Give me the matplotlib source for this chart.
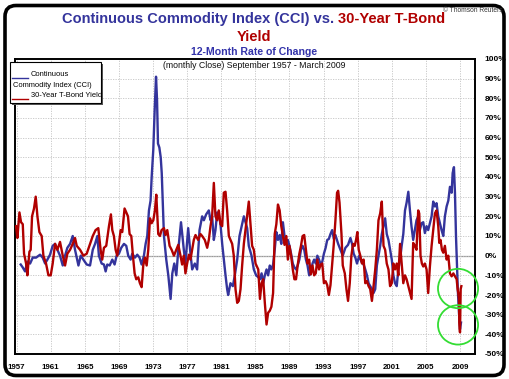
import matplotlib
matplotlib.use('Agg')
import matplotlib.pyplot as plt
from matplotlib.patches import FancyBboxPatch, Rectangle, Ellipse
from matplotlib.lines import Line2D
from matplotlib.transforms import IdentityTransform

# ---------------- data ----------------
cci_years = [1957.48, 1957.72, 1957.99, 1958.26, 1958.58, 1958.89, 1959.28, 1959.75, 1960.06, 1960.34,
             1960.61, 1960.92, 1961.23, 1961.51, 1961.78, 1962.09, 1962.41, 1962.68, 1962.95, 1963.27,
             1963.58, 1963.85, 1964.25, 1964.52, 1964.83, 1965.22, 1965.61, 1965.93, 1966.20, 1966.47,
             1966.65, 1966.97, 1967.24, 1967.44, 1967.63, 1967.91, 1968.22, 1968.49, 1968.73, 1969.00,
             1969.27, 1969.59, 1969.86, 1970.09, 1970.37, 1970.56, 1970.88, 1971.15, 1971.42, 1971.66,
             1971.93, 1972.13, 1972.32, 1972.52, 1972.71, 1972.84, 1973.03, 1973.19, 1973.35, 1973.47,
             1973.58, 1973.74, 1973.90, 1974.02, 1974.13, 1974.28, 1974.55, 1974.79, 1975.06, 1975.26,
             1975.49, 1975.73, 1975.96, 1976.28, 1976.61, 1976.80, 1977.12, 1977.39, 1977.59, 1977.90,
             1978.17, 1978.45, 1978.76, 1978.96, 1979.23, 1979.54, 1979.74, 1979.93, 1980.13, 1980.32,
             1980.52, 1980.71, 1980.91, 1981.11, 1981.30, 1981.50, 1981.69, 1981.81, 1982.08, 1982.36,
             1982.59, 1982.87, 1983.14, 1983.45, 1983.65, 1983.84, 1984.04, 1984.23, 1984.55, 1984.82,
             1985.09, 1985.35, 1985.54, 1985.73, 1985.92, 1986.11, 1986.31, 1986.50, 1986.69, 1986.88,
             1987.08, 1987.27, 1987.46, 1987.65, 1987.85, 1988.04, 1988.23, 1988.42, 1988.62, 1988.81,
             1989.00, 1989.19, 1989.39, 1989.58, 1989.77, 1989.96, 1990.16, 1990.35, 1990.54, 1990.73,
             1990.93, 1991.12, 1991.31, 1991.50, 1991.70, 1991.89, 1992.08, 1992.27, 1992.47, 1992.66,
             1992.85, 1993.04, 1993.24, 1993.43, 1993.62, 1993.81, 1994.01, 1994.20, 1994.39, 1994.71,
             1994.98, 1995.25, 1995.56, 1995.87, 1996.15, 1996.34, 1996.53, 1996.73, 1996.92, 1997.19,
             1997.43, 1997.70, 1997.89, 1998.09, 1998.28, 1998.47, 1998.67, 1998.86, 1999.06, 1999.25,
             1999.44, 1999.64, 1999.83, 2000.03, 2000.22, 2000.41, 2000.61, 2000.80, 2001.00, 2001.19,
             2001.38, 2001.58, 2001.77, 2001.97, 2002.16, 2002.35, 2002.55, 2002.74, 2002.94, 2003.13,
             2003.31, 2003.51, 2003.71, 2003.90, 2004.10, 2004.29, 2004.49, 2004.69, 2004.88, 2005.08,
             2005.27, 2005.47, 2005.67, 2005.86, 2006.06, 2006.25, 2006.45, 2006.65, 2006.84, 2007.04,
             2007.23, 2007.43, 2007.63, 2007.82, 2008.02, 2008.14, 2008.29, 2008.41, 2008.53, 2008.65,
             2008.76, 2008.88, 2009.00, 2009.12]
cci_values = [-4.5, -6, -8, -3, -4, -1, -1, 0.5, -1, -4,
              -2, 0.5, 5, 6, 3, 0, -5, 0, 4, 6,
              10, 3, -5, 0, -2, -4.5, -5, 3, 6, 10,
              0, -4, -4.5, -8, -4.5, -5, -2, -4.5, 0, 1,
              4, 6, 5, 0, -2, 1, -1, 0.5, -1, -4.5,
              0, 6, 10, 23, 28, 40, 54, 74, 91, 79,
              57, 55, 50, 42, 28, 10, -2, -10, -22, -9,
              -4, -10, 3, 17, 3, -4, 14, 1, -7, -4,
              -7, 13, 20, 18, 21, 23, 18, 20, 8, 13,
              22, 21, 16, 6, -2, -10, -17, -20, -14, -15.5,
              -10, -2, 10, 16, 20, 17, 14, 5, 0, -7,
              -10, -11, -12, -9, -14, -10, -7, -10, -5, -7,
              -4.5, 3, 12, 8, 10.5, 6, 17, 10, 8, 8,
              5, 1, -4, -6, -7, -5, -2, 3, 5, 3,
              -2, -5, -10, -9, -4, -2, -4, 0, -2, -4.5,
              -3, 1, 4, 8, 8.5, 11, 13, 8.5, 10.5, 6,
              3, 0, 4, 5.5, 9, 6, 1, -1, -4, 0,
              -3, -4.5, -7, -10, -14, -15.5, -17, -19, -17, -5,
              0, 5, 11, 15, 19, 11, 8, 3, -2, -10,
              -14, -15.5, -7, -2, 5, 11, 23, 27, 32.5, 23,
              15, 8, 13, 18, 20, 13, 16.5, 17, 11.5, 15,
              13, 16.5, 20, 27.5, 25, 26.7, 20, 16.5, 13, 10,
              20, 25, 28, 35, 32, 42, 45, 32, 10, -5.5,
              -19, -29, -37.5, -34]

tbond_years = [1956.93, 1957.09, 1957.33, 1957.52, 1957.72, 1957.87, 1958.11, 1958.26, 1958.50, 1958.65,
               1958.81, 1959.04, 1959.24, 1959.44, 1959.67, 1959.94, 1960.14, 1960.45, 1960.73, 1961.00,
               1961.23, 1961.51, 1961.78, 1962.09, 1962.41, 1962.68, 1962.95, 1963.27, 1963.58, 1963.85,
               1964.05, 1964.44, 1964.83, 1965.22, 1965.61, 1965.93, 1966.26, 1966.58, 1966.85, 1967.04,
               1967.24, 1967.51, 1967.83, 1968.06, 1968.22, 1968.41, 1968.61, 1968.80, 1969.00, 1969.20,
               1969.39, 1969.66, 1969.86, 1970.06, 1970.25, 1970.45, 1970.64, 1970.84, 1971.03, 1971.27,
               1971.46, 1971.66, 1971.85, 1972.05, 1972.25, 1972.44, 1972.64, 1972.83, 1973.03, 1973.22,
               1973.38, 1973.61, 1973.81, 1974.00, 1974.28, 1974.47, 1974.67, 1974.94, 1975.18, 1975.45,
               1975.73, 1975.96, 1976.22, 1976.41, 1976.61, 1976.80, 1977.00, 1977.20, 1977.39, 1977.59,
               1977.78, 1977.98, 1978.29, 1978.56, 1978.76, 1979.07, 1979.35, 1979.54, 1979.74, 1979.93,
               1980.13, 1980.32, 1980.52, 1980.71, 1980.91, 1981.11, 1981.30, 1981.50, 1981.69, 1981.89,
               1982.08, 1982.28, 1982.47, 1982.67, 1982.87, 1983.06, 1983.26, 1983.45, 1983.65, 1983.84,
               1984.04, 1984.23, 1984.43, 1984.62, 1984.82, 1985.02, 1985.34, 1985.54, 1985.73, 1985.92,
               1986.11, 1986.31, 1986.50, 1986.69, 1986.88, 1987.08, 1987.27, 1987.46, 1987.65, 1987.85,
               1988.04, 1988.23, 1988.42, 1988.62, 1988.81, 1989.00, 1989.19, 1989.39, 1989.58, 1989.77,
               1989.96, 1990.16, 1990.35, 1990.54, 1990.73, 1990.93, 1991.12, 1991.31, 1991.50, 1991.70,
               1991.89, 1992.08, 1992.27, 1992.47, 1992.66, 1992.85, 1993.04, 1993.24, 1993.43, 1993.62,
               1993.81, 1994.01, 1994.20, 1994.39, 1994.58, 1994.71, 1994.87, 1995.10, 1995.25, 1995.49,
               1995.68, 1995.87, 1996.07, 1996.26, 1996.46, 1996.65, 1996.81, 1996.96, 1997.12, 1997.31,
               1997.50, 1997.70, 1997.89, 1998.09, 1998.28, 1998.47, 1998.67, 1998.86, 1999.06, 1999.25,
               1999.44, 1999.64, 1999.83, 2000.03, 2000.22, 2000.41, 2000.61, 2000.80, 2001.00, 2001.19,
               2001.38, 2001.58, 2001.77, 2001.97, 2002.16, 2002.35, 2002.55, 2002.74, 2002.94, 2003.13,
               2003.32, 2003.51, 2003.71, 2003.90, 2004.10, 2004.22, 2004.37, 2004.53, 2004.69, 2004.88,
               2005.08, 2005.27, 2005.47, 2005.67, 2005.86, 2006.06, 2006.25, 2006.45, 2006.57, 2006.72,
               2006.88, 2007.04, 2007.23, 2007.43, 2007.63, 2007.82, 2008.02, 2008.22, 2008.41, 2008.61,
               2008.72, 2008.80, 2008.88, 2008.92, 2009.00, 2009.08, 2009.16]
tbond_values = [15, 9, 22, 17, 16, 1, -4, -10, 2, 3,
                20, 24, 30, 20, 12, 10, 0, -4, -10, -10,
                -4, 6, 3, 7, 0, -5, 1, 3, 6, 9,
                5, 3, 0, 1, 6, 10, 13, 14, 3, -2,
                4, 5, 15, 21, 13, 10, 3, 0, 6, 13,
                12, 24, 22, 20, 11, 10, 0, -9, -12, -11,
                -14, -16, -5, -1, -5, 3, 19, 16.5, 18, 23,
                31, 11, 10, 13, 14, 10.5, 13, 5, 3, 0,
                3, 5.5, 0, -4.5, 0, -9, -4, 0.5, -2, 3,
                8, 10.5, 8, 11, 10, 8, 4, 8, 15, 20,
                37, 20, 18, 23, 16, 15, 32, 32.5, 23, 10,
                8, 6, 0, -17, -24, -23, -17, -5, 6, 13,
                20, 27.5, 16, 5, 3, -4, -7, -22, -14, -12,
                -24, -35, -29, -28, -26, -19, 11, 16, 26, 23,
                15, 10, 5.5, 10, -2, 5, 0, -7, -12, -12,
                -5, 1, 5, 10, 10.5, 3, -4, -2, -9.5, -5,
                -10, -9, -2, -7, -4.5, -4, -14, -13, -15, -20,
                -15, -4, 6, 18, 32, 33, 27, 11, -5, -9,
                -17, -23, -14, 0, 6, 5, 8, 12, 3, 0,
                -4, -2, -14, -13, -15.5, -17, -23, -15.5, -7, 3,
                18, 21.5, 27.5, 5, 3, -4, -7, -15.5, -14, -4,
                -7, -4, -10, 6, -4, -14, -10, -12, -15.5, -19,
                -22, 6.5, 5, 3, 23, 21.5, 0, -4, -5.5, -4,
                -7, -19, -5.5, 5, 13, 21.5, 23, 15, 6.5, 8,
                3, 1.5, 5, -2, 0, -9, -10.5, -9, -10.5, -12,
                -17, -19, -22, -34, -39, -17, -15.5]

year_ticks = [1957, 1961, 1965, 1969, 1973, 1977, 1981, 1985, 1989, 1993, 1997, 2001, 2005, 2009]
pct_ticks = [-50, -40, -30, -20, -10, 0, 10, 20, 30, 40, 50, 60, 70, 80, 90, 100]

cci_label = "Continuous Commodity Index (CCI)"
tbond_label = "30-Year T-Bond Yield"

BLUE = '#34349c'
RED = '#b00000'
FONT = 'Liberation Sans'

# ---------------- figure ----------------
W, H = 509, 379
fig = plt.figure(figsize=(W / 100, H / 100), dpi=100)
fig.patch.set_facecolor('white')


def fx(x):
    return x / W


def fy(y):
    return 1 - y / H


ax = fig.add_axes([fx(15), fy(354), (475 - 15) / W, (354 - 59) / H])
ax.set_xlim(1956.81, 2010.76)
ax.set_ylim(-50, 100)

ax.plot(cci_years, cci_values, color=BLUE, lw=1.7, zorder=3, solid_joinstyle='round')
ax.plot(tbond_years, tbond_values, color=RED, lw=1.7, zorder=4, solid_joinstyle='round')

ax.set_xticks(year_ticks)
ax.set_xticklabels([str(y) for y in year_ticks], fontsize=5.7, fontweight='bold', family=FONT)
ax.set_yticks(pct_ticks)
ax.set_yticklabels([f"{p}%" for p in pct_ticks], fontsize=6.0, fontweight='bold', family=FONT)
ax.yaxis.tick_right()
ax.tick_params(axis='both', length=0)
ax.tick_params(axis='y', pad=7)
ax.tick_params(axis='x', pad=7)

ax.grid(True, color='#c4c4c4', linestyle=(0, (1.5, 1.5)), linewidth=0.6, zorder=0)
ax.axhline(0, color='#999999', lw=0.9, zorder=1)
for s in ax.spines.values():
    s.set_linewidth(1.4)
    s.set_color('black')

# green highlight circles
for cy in (-16.7, -35.2):
    ax.add_patch(Ellipse((2008.77, cy), 4.7, 20.0, fill=False, ec='#33dd33', lw=1.3,
                         zorder=5, clip_on=False))

# subtitle inside plot
fig.text(fx(254), fy(66), "(monthly Close) September 1957 - March 2009", fontsize=6.3,
         family=FONT, ha='center', va='center', color='#111111')

# ---------------- titles ----------------
fig.canvas.draw()
r = fig.canvas.get_renderer()
t1 = fig.text(0, fy(19), "Continuous Commodity Index (CCI) vs.", fontsize=10.5, fontweight='bold',
              family=FONT, color=BLUE, ha='left', va='center')
t2 = fig.text(0, fy(19), "30-Year T-Bond", fontsize=10.5, fontweight='bold',
              family=FONT, color=RED, ha='left', va='center')
w1 = t1.get_window_extent(r).width
w2 = t2.get_window_extent(r).width
gap = 4
total = w1 + gap + w2
x0 = 253.5 - total / 2
t1.set_x(fx(x0))
t2.set_x(fx(x0 + w1 + gap))
fig.text(fx(254), fy(37), "Yield", fontsize=10.5, fontweight='bold', family=FONT, color=RED,
         ha='center', va='center')
fig.text(fx(254), fy(52), "12-Month Rate of Change", fontsize=7.6, fontweight='bold', family=FONT,
         color='#3333aa', ha='center', va='center')
fig.text(fx(503), fy(11), "\u00a9 Thomson Reuters", fontsize=4.8, family=FONT, color='#333333',
         ha='right', va='center', zorder=30)

# ---------------- legend box ----------------
idt = IdentityTransform()
lx0, lx1, ly0, ly1 = 10, 101, 62, 103
shadow = Rectangle((lx0 + 2, H - ly1 - 2), lx1 - lx0, ly1 - ly0, transform=idt,
                   facecolor='#555555', edgecolor='none', zorder=9)
box = Rectangle((lx0, H - ly1), lx1 - lx0, ly1 - ly0, transform=idt,
                facecolor='white', edgecolor='black', lw=0.8, zorder=10)
fig.patches.extend([shadow, box])
fig.lines.append(Line2D([fx(12), fx(28)], [fy(78), fy(78)], transform=fig.transFigure,
                        color=BLUE, lw=1.0, zorder=11))
fig.lines.append(Line2D([fx(12), fx(28)], [fy(99), fy(99)], transform=fig.transFigure,
                        color=RED, lw=1.0, zorder=11))
fig.text(fx(31), fy(75), "Continuous", fontsize=5.4, family=FONT, ha='left', va='center', zorder=12)
fig.text(fx(13), fy(85.5), "Commodity Index (CCI)", fontsize=5.4, family=FONT, ha='left', va='center',
         zorder=12)
fig.text(fx(31), fy(95.5), tbond_label, fontsize=5.4, family=FONT, ha='left', va='center', zorder=12)

# ---------------- outer rounded frame ----------------
frame = FancyBboxPatch((5, 3.5), 499, 370, boxstyle='round,pad=0,rounding_size=11', transform=idt,
                       fill=False, edgecolor='black', lw=2.6, zorder=20)
fig.patches.append(frame)

fig.savefig('out.png', dpi=100, facecolor='white')
